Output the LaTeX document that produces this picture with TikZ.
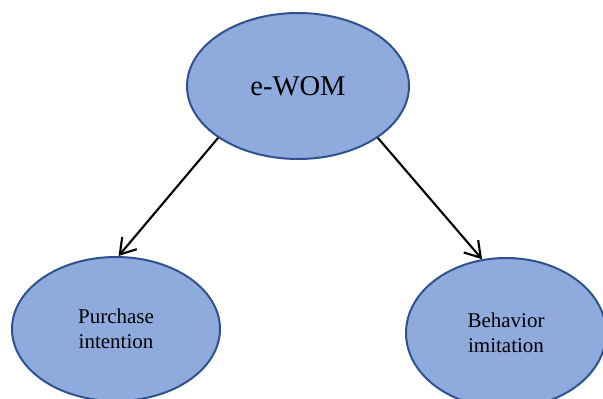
\documentclass[tikz,border=0pt]{standalone}
\usepackage{fontspec}
\setmainfont{Liberation Serif}
\usetikzlibrary{shapes.geometric,arrows.meta}
\definecolor{ovalfill}{HTML}{8FAADC}
\definecolor{ovaldraw}{HTML}{2F528F}
\tikzset{
  oval/.style={ellipse, draw=ovaldraw, fill=ovalfill, line width=2pt, inner sep=0pt, align=center},
  link/.style={line width=2.1pt, -{Straight Barb[length=15pt,width=19pt]}}
}
\begin{document}
\begin{tikzpicture}[x=1pt,y=-1pt]
\useasboundingbox (0,0) rectangle (603,399);
\begin{scope}
\clip (0,0) rectangle (603,399);
\node[oval, minimum width=222pt, minimum height=146pt, font=\fontsize{28.6}{30}\selectfont] (ewom) at (298,86) {e-WOM};
\node[oval, minimum width=208pt, minimum height=144pt, font=\fontsize{21}{25}\selectfont] (pi) at (116,329) {Purchase\\intention};
\node[oval, minimum width=200pt, minimum height=150pt, font=\fontsize{21}{25}\selectfont] (bi) at (506,333) {Behavior\\imitation};
\end{scope}
\draw[link] (ewom.213) -- (pi.88);
\draw[link] (ewom.-33) -- (bi.108);
\end{tikzpicture}
\end{document}
